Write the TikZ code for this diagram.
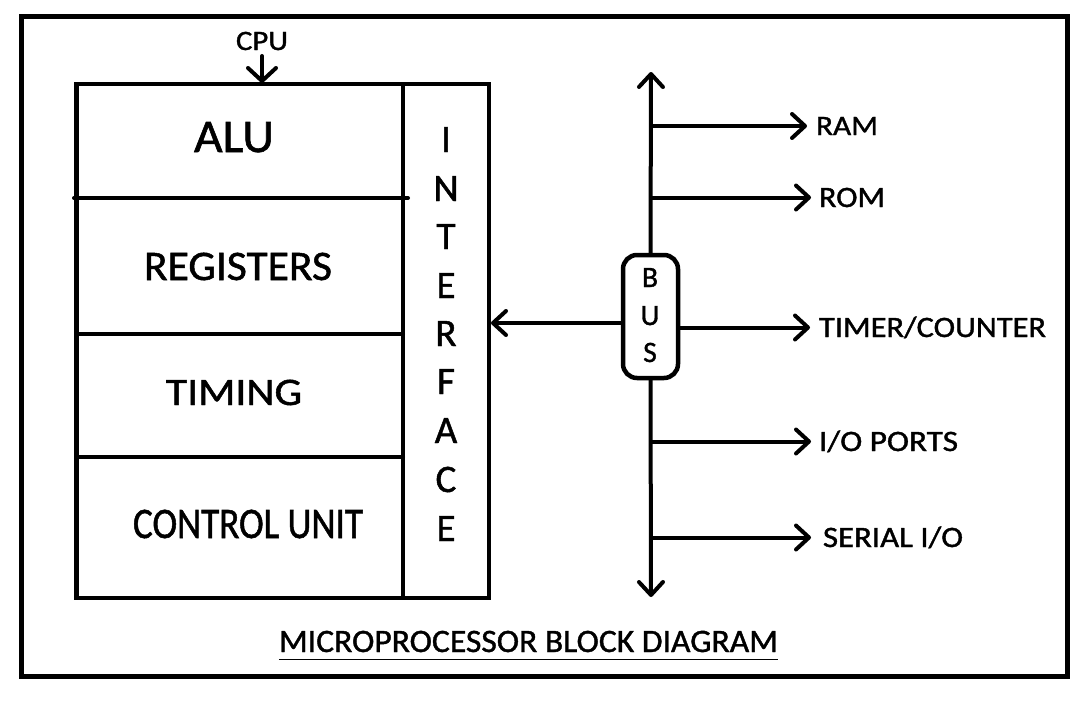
\documentclass[tikz,border=0pt]{standalone}
\usepackage{fontspec}
\setmainfont[FakeBold=1.2]{Carlito}
\usetikzlibrary{arrows.meta}
\newcommand{\fitw}[3]{\resizebox{#1pt}{#2pt}{\smash{#3}\vphantom{H}}}
\newcommand{\fith}[2]{\resizebox{!}{#1pt}{\smash{#2}\vphantom{H}}}
\tikzset{
  frame/.style={draw, line width=5pt},
  blk/.style={draw, line width=4.5pt},
  sep/.style={line width=4pt, line cap=round},
  lbl/.style={inner sep=0pt, outer sep=0pt},
  arr/.style={line width=4pt, line cap=round,
    -{Straight Barb[length=13pt, width=24pt, round]}},
  busbox/.style={draw, line width=4.5pt, rounded corners=14pt,
    minimum width=55pt, minimum height=123pt, inner sep=0pt},
}
\begin{document}
\begin{tikzpicture}[x=1pt, y=-1pt]
\useasboundingbox (0,0) rectangle (1083,701);
% outer frame
\node[frame, minimum width=1046pt, minimum height=659.5pt, inner sep=0pt]
  (outer) at (544.5,346.25) {};
% CPU block
\node[blk, minimum width=412.5pt, minimum height=514pt, inner sep=0pt]
  (cpubox) at (282.75,341) {};
\node[blk, minimum width=86pt, minimum height=514pt, inner sep=0pt]
  (iface) at (446,341) {};
\draw[sep] (74,198) -- (408,198);
\draw[sep] (77,334) -- (403,334);
\draw[sep] (77,457) -- (403,457);
% cell labels
\node[lbl, anchor=base] (cpu) at (262,50) {\fitw{52}{18}{CPU}};
\node[lbl, anchor=base] (alu) at (234,152) {\fitw{80}{30}{ALU}};
\node[lbl, anchor=base] (reg) at (238,280) {\fitw{188}{27}{REGISTERS}};
\node[lbl, anchor=base] (tim) at (234,405) {\fitw{136}{25}{TIMING}};
\node[lbl, anchor=base] (cu) at (248,538) {\fitw{230}{28}{CONTROL UNIT}};
\coordinate (cputop) at (262,83);
\draw[arr, -{Straight Barb[length=13pt, width=28pt, round]}] ([yshift=-6pt]cpu.south) -- (cputop);
% interface letters
\node[lbl, anchor=base] (i1) at (446,152) {\fith{25}{I}};
\node[lbl, anchor=base] (i2) at (446,201) {\fith{25}{N}};
\node[lbl, anchor=base] (i3) at (446,249) {\fith{25}{T}};
\node[lbl, anchor=base] (i4) at (446,298) {\fith{25}{E}};
\node[lbl, anchor=base] (i5) at (446,346) {\fith{25}{R}};
\node[lbl, anchor=base] (i6) at (446,394) {\fith{25}{F}};
\node[lbl, anchor=base] (i7) at (446,443) {\fith{25}{A}};
\node[lbl, anchor=base] (i8) at (446,492) {\fith{25}{C}};
\node[lbl, anchor=base] (i9) at (446,541) {\fith{25}{E}};
% bus
\node[busbox] (bus) at (650.5,316.5) {};
\node[lbl, anchor=base] (b1) at (650,287) {\fith{19}{B}};
\node[lbl, anchor=base] (b2) at (650,325) {\fith{19}{U}};
\node[lbl, anchor=base] (b3) at (650,362) {\fith{19}{S}};
\coordinate (bustop) at (651,72);
\coordinate (busbot) at (651,597);
\draw[arr] (bus.north) -- (bustop);
\draw[arr] (bus.south) -- (busbot);
\coordinate (ifin) at (491,323);
\draw[arr] (bus.west |- ifin) -- (ifin);
% peripherals
\node[lbl, anchor=base west] (ram) at (816,135) {\fitw{62}{18}{RAM}};
\node[lbl, anchor=base west] (rom) at (819,207) {\fitw{66}{19}{ROM}};
\node[lbl, anchor=base west] (tc) at (819,337) {\fitw{227}{19}{TIMER/COUNTER}};
\node[lbl, anchor=base west] (io) at (819,451) {\fitw{139}{19}{I/O PORTS}};
\node[lbl, anchor=base west] (sio) at (823,547) {\fitw{140}{19}{SERIAL I/O}};
\draw[arr, shorten >=9pt] (bustop |- ram.west) -- (ram.west);
\draw[arr, shorten >=8pt] (bustop |- rom.west) -- (rom.west);
\draw[arr, shorten >=9pt] (bus.east |- tc.west) -- (tc.west);
\draw[arr, shorten >=8pt] (busbot |- io.west) -- (io.west);
\draw[arr, shorten >=12pt] (busbot |- sio.west) -- (sio.west);
% title
\node[lbl, anchor=base] (title) at (528.5,652) {\fitw{499}{21}{MICROPROCESSOR BLOCK DIAGRAM}};
\draw[line width=1.8pt] ([yshift=-7.5pt]title.base west) -- ([yshift=-7.5pt]title.base east);
\end{tikzpicture}
\end{document}
